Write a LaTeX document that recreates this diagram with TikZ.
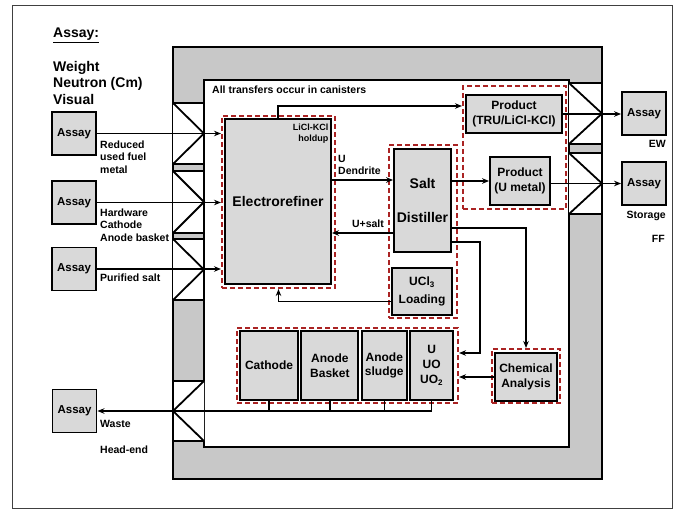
\documentclass[tikz,border=0pt]{standalone}
\usepackage{fontspec}
\setmainfont{Liberation Sans}
\usetikzlibrary{arrows.meta, positioning, calc}
\definecolor{boxgray}{RGB}{217,217,217}
\definecolor{wallgray}{RGB}{200,200,200}
\definecolor{dashred}{RGB}{170,35,35}

\begin{document}
\begin{tikzpicture}[x=1pt, y=-1pt,
  box/.style={draw, line width=1.9pt, fill=boxgray, inner sep=0pt, align=center,
              font=\bfseries\fontsize{12}{14.5}\selectfont},
  assay/.style={box, minimum width=44pt, minimum height=43pt,
              font=\bfseries\fontsize{11.5}{13}\selectfont},
  grp/.style={draw=dashred, line width=2pt, dash pattern=on 5pt off 3pt, inner sep=0pt},
  lbl/.style={inner sep=0pt, align=left, font=\bfseries\fontsize{10.5}{12.5}\selectfont},
  wall/.style={draw, line width=1.8pt, fill=wallgray},
  lock/.style={draw, line width=1.8pt, fill=white},
  wire/.style={line width=1.5pt},
  arr/.style={-{Stealth[length=7pt,width=5.5pt]}, line width=1.5pt}
]
\useasboundingbox (0,0) rectangle (676,513);
\draw[black!75, line width=0.8pt] (12,5) rectangle (672,508);

\draw[wall] (173,47) rectangle (602,479);
\draw[lock] (204,80) rectangle (569,447);
\foreach \t/\b in {103/164, 171/233, 239/300} {
  \draw[lock] (173,\t) rectangle (204,\b);
  \draw[lock] (173,\t) -- (204,{(\t+\b)/2}) -- (173,\b);
}
\draw[lock] (173,381) rectangle (204,441);
\draw[lock] (204,381) -- (173,411) -- (204,441);
\foreach \t/\b in {83/144, 153/214} {
  \draw[lock] (569,\t) rectangle (602,\b);
  \draw[lock] (569,\t) -- (602,{(\t+\b)/2}) -- (569,\b);
}

\node[anchor=north west, inner sep=0pt, font=\bfseries\fontsize{14}{16.5}\selectfont] (hdr) at (53,28) {\underline{Assay:}};
\node[anchor=north west, inner sep=0pt, align=left, font=\bfseries\fontsize{14}{16.5}\selectfont] (meth) at (53,61) {Weight\\Neutron (Cm)\\Visual};

\node[assay] (a1) at (74,133.5) {Assay};
\node[assay] (a2) at (74,202.5) {Assay};
\node[assay] (a3) at (74,269) {Assay};
\node[assay] (aw) at (74.5,411) {Assay};
\node[assay] (ae) at (644,113.5) {Assay};
\node[assay] (as) at (644,183.5) {Assay};

\node[grp, minimum width=113pt, minimum height=172pt] (erg) at (278.5,202) {};
\node[grp, minimum width=103pt, minimum height=123pt] (prg) at (514.5,147.5) {};
\node[grp, minimum width=68pt, minimum height=173pt] (sdg) at (422.5,231.5) {};
\node[grp, minimum width=221pt, minimum height=75pt] (bg) at (347.5,365.5) {};
\node[grp, minimum width=68pt, minimum height=54pt] (cag) at (526,376) {};

\node[box, minimum width=106pt, minimum height=165pt, font=\bfseries\fontsize{14}{17}\selectfont] (er) at (278,201.5) {Electrorefiner};
\node[box, minimum width=96pt, minimum height=38pt] (ptru) at (514,114) {Product\\(TRU/LiCl-KCl)};
\node[box, minimum width=60pt, minimum height=48pt] (pu) at (520,181) {Product\\(U metal)};
\node[box, minimum width=57pt, minimum height=103pt, font=\bfseries\fontsize{14}{34}\selectfont] (sd) at (422.5,200.5) {Salt\\Distiller};
\node[box, minimum width=60pt, minimum height=47pt, font=\bfseries\fontsize{12}{18}\selectfont] (ucl) at (422,291.5) {UCl\textsubscript{3}\\Loading};
\node[box, minimum width=62pt, minimum height=48pt, font=\bfseries\fontsize{12}{15}\selectfont] (ca) at (526,377) {Chemical\\Analysis};
\node[box, minimum width=58pt, minimum height=69pt] (cat) at (269,365.5) {Cathode};
\node[box, minimum width=57pt, minimum height=69pt, right=1.5pt of cat] (abk) {Anode\\Basket};
\node[box, minimum width=45pt, minimum height=69pt, right=1.5pt of abk] (slg) {Anode\\sludge};
\node[box, minimum width=43pt, minimum height=69pt, right=1.5pt of slg, font=\bfseries\fontsize{12}{15}\selectfont] (uox) {U\\UO\\UO\textsubscript{2}};

\node[lbl, anchor=north west] (lblrf) at (100,140.3) {Reduced\\used fuel\\metal};
\node[lbl, anchor=north west] (lblhw) at (100,208.5) {Hardware\\Cathode\\Anode basket};
\node[lbl, anchor=north west] (lblps) at (100,273.5) {Purified salt};
\node[lbl, anchor=north west] (lblws) at (100,420.5) {Waste};
\node[lbl, anchor=north west] (lblhe) at (100,445.5) {Head-end};
\node[lbl, anchor=north east] (lblew) at (666,140.5) {EW};
\node[lbl, anchor=north east] (lblst) at (666,211) {Storage};
\node[lbl, anchor=north east] (lblff) at (665,235) {FF};
\node[lbl, anchor=north west] (lbltr) at (212,86) {All transfers occur in canisters};
\node[lbl, anchor=north east, align=right, font=\bfseries\fontsize{9}{11}\selectfont] (lblhold) at (328.5,123.5) {LiCl-KCl\\holdup};
\node[lbl, anchor=north west] (lbldend) at (338,155) {U\\Dendrite};
\node[lbl, anchor=north] (lblus) at (368,220) {U+salt};

\coordinate (dend) at ($(sd.west)+(0,-20.5)$);
\coordinate (usalt) at ($(sd.west)+(0,32.5)$);
\coordinate (ubend) at (480,353);

\draw[arr] (a1.east) -- (a1.east -| erg.west);
\draw[arr] (a2.east) -- (a2.east -| erg.west);
\draw[arr] (a3.east) -- (a3.east -| erg.west);
\draw[arr] (er.north) |- ($(prg.west |- ptru.west)+(0,-8)$);
\draw[arr] (er.east |- dend) -- (dend);
\draw[arr] (usalt) -- (usalt -| er.east);
\draw[arr] (sd.east |- pu.west) -- (pu.west);
\draw[arr] (ptru.east) -- (ptru.east -| ae.west);
\draw[arr] (pu.east |- as.west) -- (as.west);
\draw[arr] ($(sd.east)+(0,27.5)$) -| (cag.north);
\draw[arr] ($(sd.east)+(0,41.5)$) -| (ubend) -- (ubend -| bg.east);
\draw[arr] (ca.west) -- (ca.west -| bg.east);
\draw[arr] ($(ucl.west)+(0,10)$) -| (erg.south);
\foreach \b in {cat, abk, slg, uox}
  \draw[wire] (\b.south) -- (\b.south |- aw.east);
\draw[arr] (uox.south |- aw.east) -- (aw.east);
\end{tikzpicture}
\end{document}
